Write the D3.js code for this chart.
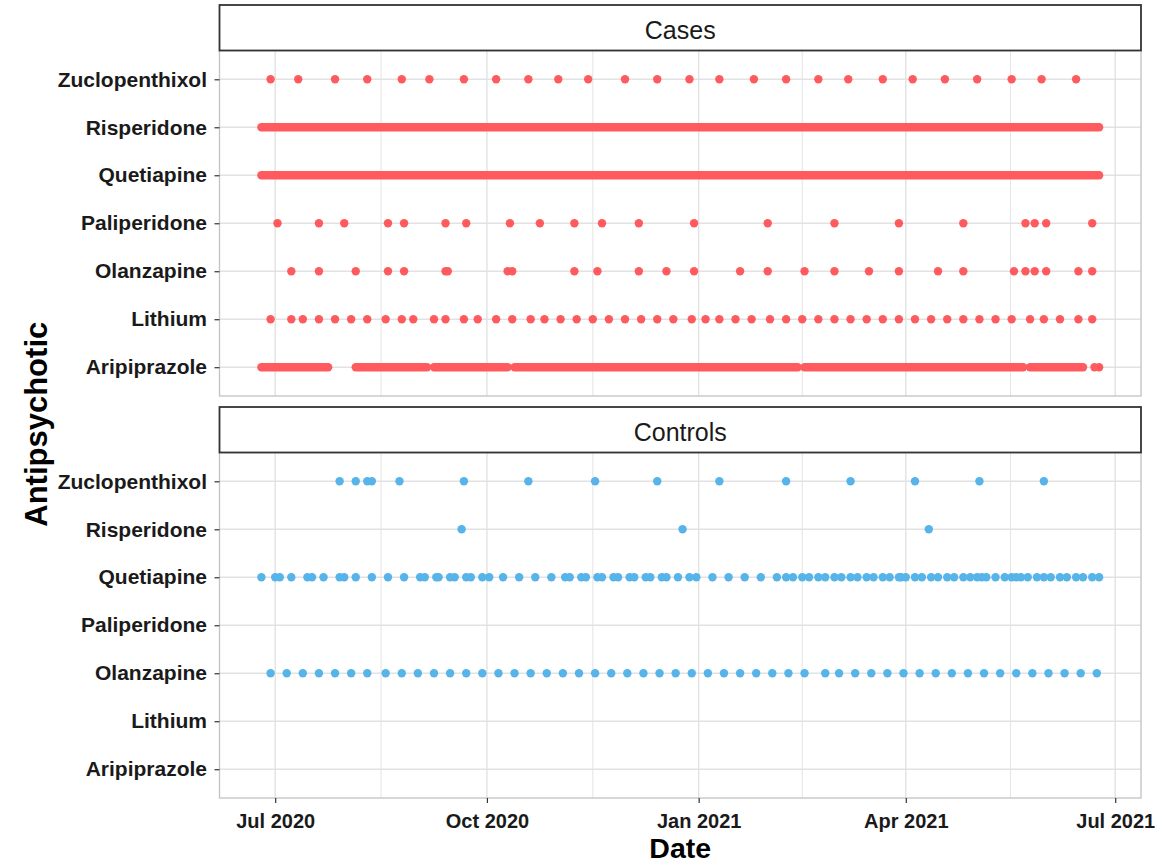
<!DOCTYPE html>
<html>
<head>
<meta charset="utf-8">
<script src="https://cdn.jsdelivr.net/npm/d3@7"></script>
<style>
    body { margin: 0; background: #fff; }
    #chart { width: 1165px; height: 864px; }
    text { font-family: "Liberation Sans", Arial, sans-serif; }
</style>
</head>
<body>
<div id="chart"></div>
<script>
// y categories, bottom to top
const drugs = ["Aripiprazole", "Lithium", "Olanzapine", "Paliperidone", "Quetiapine", "Risperidone", "Zuclopenthixol"]
const groups = ["Cases", "Controls"]
const xTickDates = ["2020-07-01", "2020-10-01", "2021-01-01", "2021-04-01", "2021-07-01"]
const xTickLabels = ["Jul 2020", "Oct 2020", "Jan 2021", "Apr 2021", "Jul 2021"]

// ---- Cases ----
const casesZuclopenthixol = ["2020-06-29", "2020-07-11", "2020-07-27", "2020-08-10", "2020-08-25", "2020-09-06",
    "2020-09-21", "2020-10-05", "2020-10-19", "2020-11-01", "2020-11-14", "2020-11-30", "2020-12-14", "2020-12-28",
    "2021-01-10", "2021-01-25", "2021-02-08", "2021-02-22", "2021-03-07", "2021-03-22", "2021-04-04", "2021-04-18",
    "2021-05-02", "2021-05-17", "2021-05-30", "2021-06-14"]
const casesPaliperidone = ["2020-07-02", "2020-07-20", "2020-07-31", "2020-08-19", "2020-08-26", "2020-09-13",
    "2020-09-22", "2020-10-11", "2020-10-24", "2020-11-08", "2020-11-20", "2020-12-06", "2020-12-30", "2021-01-31",
    "2021-03-01", "2021-03-29", "2021-04-26", "2021-05-23", "2021-05-27", "2021-06-01", "2021-06-21"]
const casesOlanzapine = ["2020-07-08", "2020-07-20", "2020-08-05", "2020-08-19", "2020-08-26", "2020-09-13",
    "2020-09-14", "2020-10-10", "2020-10-12", "2020-11-08", "2020-11-18", "2020-12-06", "2020-12-18", "2020-12-30",
    "2021-01-19", "2021-01-31", "2021-02-16", "2021-03-01", "2021-03-16", "2021-03-29", "2021-04-15", "2021-04-26",
    "2021-05-18", "2021-05-23", "2021-05-27", "2021-06-01", "2021-06-15", "2021-06-21"]
const casesLithium = ["2020-06-29", "2020-07-08", "2020-07-13", "2020-07-20", "2020-07-27", "2020-08-03",
    "2020-08-10", "2020-08-18", "2020-08-25", "2020-08-30", "2020-09-08", "2020-09-13", "2020-09-21", "2020-09-27",
    "2020-10-05", "2020-10-12", "2020-10-20", "2020-10-26", "2020-11-02", "2020-11-09", "2020-11-16", "2020-11-23",
    "2020-11-30", "2020-12-07", "2020-12-14", "2020-12-21", "2020-12-29", "2021-01-04", "2021-01-10", "2021-01-17",
    "2021-01-24", "2021-02-01", "2021-02-08", "2021-02-15", "2021-02-22", "2021-03-01", "2021-03-08", "2021-03-15",
    "2021-03-22", "2021-03-29", "2021-04-05", "2021-04-12", "2021-04-19", "2021-04-26", "2021-05-03", "2021-05-10",
    "2021-05-17", "2021-05-25", "2021-05-31", "2021-06-07", "2021-06-15", "2021-06-21"]
const casesAripiprazole = ["2021-06-22", "2021-06-24"]
// daily records over long stretches, kept as [first day, last day]
const casesAripiprazoleRuns = [["2020-06-25", "2020-07-24"], ["2020-08-05", "2020-09-05"], ["2020-09-08", "2020-10-10"],
    ["2020-10-13", "2021-02-13"], ["2021-02-16", "2021-05-22"], ["2021-05-25", "2021-06-17"]]
const casesQuetiapineRuns = [["2020-06-25", "2021-06-24"]]
const casesRisperidoneRuns = [["2020-06-25", "2021-06-24"]]

// ---- Controls ----
const controlsZuclopenthixol = ["2020-07-29", "2020-08-05", "2020-08-10", "2020-08-12", "2020-08-24", "2020-09-21",
    "2020-10-19", "2020-11-17", "2020-12-14", "2021-01-10", "2021-02-08", "2021-03-08", "2021-04-05", "2021-05-03",
    "2021-05-31"]
const controlsRisperidone = ["2020-09-20", "2020-12-25", "2021-04-11"]
const controlsQuetiapine = ["2020-06-25", "2020-07-01", "2020-07-03", "2020-07-08", "2020-07-15", "2020-07-17",
    "2020-07-22", "2020-07-29", "2020-07-31", "2020-08-05", "2020-08-12", "2020-08-19", "2020-08-26", "2020-09-02",
    "2020-09-04", "2020-09-09", "2020-09-10", "2020-09-15", "2020-09-17", "2020-09-22", "2020-09-24", "2020-09-29",
    "2020-10-02", "2020-10-08", "2020-10-15", "2020-10-22", "2020-10-29", "2020-11-04", "2020-11-06", "2020-11-11",
    "2020-11-13", "2020-11-18", "2020-11-20", "2020-11-25", "2020-11-27", "2020-12-02", "2020-12-04", "2020-12-09",
    "2020-12-11", "2020-12-16", "2020-12-18", "2020-12-23", "2020-12-28", "2020-12-31", "2021-01-07", "2021-01-14",
    "2021-01-21", "2021-01-28", "2021-02-04", "2021-02-08", "2021-02-11", "2021-02-15", "2021-02-18", "2021-02-22",
    "2021-02-25", "2021-03-01", "2021-03-04", "2021-03-08", "2021-03-11", "2021-03-15", "2021-03-18", "2021-03-22",
    "2021-03-25", "2021-03-29", "2021-03-30", "2021-04-01", "2021-04-05", "2021-04-08", "2021-04-12", "2021-04-15",
    "2021-04-19", "2021-04-22", "2021-04-26", "2021-04-29", "2021-05-02", "2021-05-04", "2021-05-06", "2021-05-10",
    "2021-05-14", "2021-05-17", "2021-05-19", "2021-05-21", "2021-05-24", "2021-05-28", "2021-05-31", "2021-06-03",
    "2021-06-07", "2021-06-10", "2021-06-14", "2021-06-17", "2021-06-21", "2021-06-24"]
const controlsOlanzapine = ["2020-06-29", "2020-07-06", "2020-07-13", "2020-07-20", "2020-07-27", "2020-08-03",
    "2020-08-10", "2020-08-18", "2020-08-25", "2020-09-01", "2020-09-08", "2020-09-15", "2020-09-22", "2020-09-29",
    "2020-10-06", "2020-10-13", "2020-10-20", "2020-10-27", "2020-11-03", "2020-11-10", "2020-11-17", "2020-11-24",
    "2020-12-01", "2020-12-08", "2020-12-15", "2020-12-22", "2020-12-29", "2021-01-05", "2021-01-12", "2021-01-19",
    "2021-01-26", "2021-02-02", "2021-02-09", "2021-02-16", "2021-02-25", "2021-03-03", "2021-03-10", "2021-03-17",
    "2021-03-24", "2021-03-31", "2021-04-07", "2021-04-14", "2021-04-21", "2021-04-28", "2021-05-05", "2021-05-12",
    "2021-05-19", "2021-05-26", "2021-06-02", "2021-06-09", "2021-06-16", "2021-06-23"]

const groupColors = { Cases: "#ff5b5f", Controls: "#56b4e9" }

const parse = d3.utcParse("%Y-%m-%d")
const pts = (group, drug, dates) => dates.map(d => ({ group, drug, date: parse(d) }))
const runs = (group, drug, list) => list.map(r => ({ group, drug, start: parse(r[0]), end: parse(r[1]) }))

const points = [].concat(
    pts("Cases", "Zuclopenthixol", casesZuclopenthixol),
    pts("Cases", "Paliperidone", casesPaliperidone),
    pts("Cases", "Olanzapine", casesOlanzapine),
    pts("Cases", "Lithium", casesLithium),
    pts("Cases", "Aripiprazole", casesAripiprazole),
    pts("Controls", "Zuclopenthixol", controlsZuclopenthixol),
    pts("Controls", "Risperidone", controlsRisperidone),
    pts("Controls", "Quetiapine", controlsQuetiapine),
    pts("Controls", "Olanzapine", controlsOlanzapine)
)
const segments = [].concat(
    runs("Cases", "Aripiprazole", casesAripiprazoleRuns),
    runs("Cases", "Quetiapine", casesQuetiapineRuns),
    runs("Cases", "Risperidone", casesRisperidoneRuns)
)

// layout
const width = 1165, height = 864
const panelLeft = 219.5, panelRight = 1141
const stripH = 45.5, panelH = 345.5, facetGap = 11, firstStrip = 5
const r = 4.2

const svg = d3.select("#chart").append("svg")
    .attr("width", width)
    .attr("height", height)

// x scale: data range expanded 5% on each side (ggplot default)
const allDates = points.map(d => d.date).concat(segments.flatMap(d => [d.start, d.end]))
const ext = d3.extent(allDates)
const pad = (ext[1] - ext[0]) * 0.05
const x = d3.scaleUtc()
    .domain([new Date(+ext[0] - pad), new Date(+ext[1] + pad)])
    .range([panelLeft, panelRight])

const y = d3.scalePoint()
    .domain(drugs)
    .range([panelH, 0])
    .padding(0.6)

const majorDates = xTickDates.map(parse)
const minorDates = d3.pairs(majorDates).map(p => new Date((+p[0] + +p[1]) / 2))

const styleTicks = (axis, size) => {
    axis.select(".domain").remove()
    axis.selectAll(".tick line").attr("stroke", "#333").attr("stroke-width", 1.2)
    axis.selectAll(".tick text")
        .attr("fill", "#1a1a1a")
        .style("font-family", "'Liberation Sans', Arial, sans-serif")
        .style("font-size", size)
        .style("font-weight", "bold")
}

groups.forEach((group, i) => {
    const stripTop = firstStrip + i * (stripH + panelH + facetGap)
    const top = stripTop + stripH

    const g = svg.append("g")
        .attr("transform", "translate(0," + top + ")")

    // grid
    g.selectAll("line.minor")
        .data(minorDates)
        .join("line")
        .attr("class", "minor")
        .attr("x1", d => x(d)).attr("x2", d => x(d))
        .attr("y1", 0).attr("y2", panelH)
        .attr("stroke", "#e6e6e6")
        .attr("stroke-width", 1.1)
    g.selectAll("line.vmajor")
        .data(majorDates)
        .join("line")
        .attr("class", "vmajor")
        .attr("x1", d => x(d)).attr("x2", d => x(d))
        .attr("y1", 0).attr("y2", panelH)
        .attr("stroke", "#e2e2e2")
        .attr("stroke-width", 1.4)
    g.selectAll("line.hmajor")
        .data(drugs)
        .join("line")
        .attr("class", "hmajor")
        .attr("x1", panelLeft).attr("x2", panelRight)
        .attr("y1", d => y(d)).attr("y2", d => y(d))
        .attr("stroke", "#e2e2e2")
        .attr("stroke-width", 1.4)

    // daily stretches
    g.selectAll("line.run")
        .data(segments.filter(d => d.group === group))
        .join("line")
        .attr("class", "run")
        .attr("x1", d => x(d.start)).attr("x2", d => x(d.end))
        .attr("y1", d => y(d.drug)).attr("y2", d => y(d.drug))
        .attr("stroke", groupColors[group])
        .attr("stroke-width", r * 2)
        .attr("stroke-linecap", "round")

    g.selectAll("circle.dot")
        .data(points.filter(d => d.group === group))
        .join("circle")
        .attr("class", "dot")
        .attr("cx", d => x(d.date))
        .attr("cy", d => y(d.drug))
        .attr("r", r)
        .attr("fill", groupColors[group])

    // panel border
    g.append("rect")
        .attr("x", panelLeft).attr("y", 0)
        .attr("width", panelRight - panelLeft).attr("height", panelH)
        .attr("fill", "none")
        .attr("stroke", "#c2c2c2")
        .attr("stroke-width", 1.3)

    // y axis
    const yAxis = g.append("g")
        .attr("transform", "translate(" + panelLeft + ",0)")
        .call(d3.axisLeft(y).tickSize(5).tickPadding(7.5))
    styleTicks(yAxis, "21px")

    // x axis only under the last facet
    if (i === groups.length - 1) {
        const xAxis = g.append("g")
            .attr("transform", "translate(0," + panelH + ")")
            .call(d3.axisBottom(x).tickValues(majorDates).tickSize(5).tickPadding(15)
                .tickFormat((d, k) => xTickLabels[k]))
        styleTicks(xAxis, "20px")
        xAxis.selectAll(".tick text").attr("dy", "0.5em")
    }

    // strip
    svg.append("rect")
        .attr("x", panelLeft).attr("y", stripTop)
        .attr("width", panelRight - panelLeft).attr("height", stripH)
        .attr("fill", "#fff")
        .attr("stroke", "#333")
        .attr("stroke-width", 1.8)
    svg.append("text")
        .attr("x", (panelLeft + panelRight) / 2)
        .attr("y", stripTop + 34)
        .attr("text-anchor", "middle")
        .style("font-size", "25px")
        .attr("fill", "#1a1a1a")
        .text(group)
})

// axis titles
const plotTop = firstStrip + stripH
const plotBottom = firstStrip + 2 * (stripH + panelH) + facetGap
svg.append("text")
    .attr("transform", "translate(47," + ((plotTop + plotBottom) / 2) + ") rotate(-90)")
    .attr("text-anchor", "middle")
    .style("font-size", "31px")
    .style("font-weight", "bold")
    .attr("fill", "#000")
    .text("Antipsychotic")
svg.append("text")
    .attr("x", (panelLeft + panelRight) / 2)
    .attr("y", 858)
    .attr("text-anchor", "middle")
    .style("font-size", "28.5px")
    .style("font-weight", "bold")
    .attr("fill", "#000")
    .text("Date")
</script>
</body>
</html>
